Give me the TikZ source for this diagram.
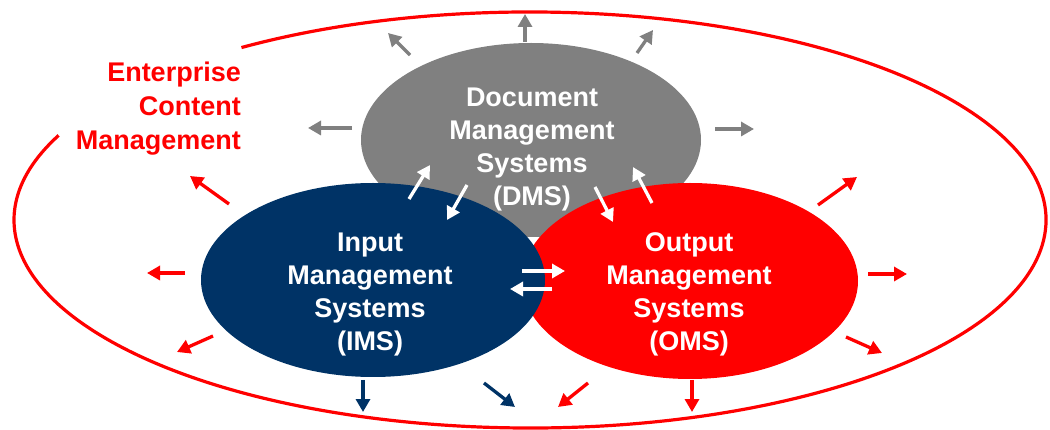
\documentclass[tikz,border=0pt]{standalone}
\usepackage{fontspec}
\setmainfont{Liberation Sans}
\usetikzlibrary{shapes.geometric,arrows.meta}
\definecolor{dmsgray}{HTML}{808080}
\definecolor{imsblue}{HTML}{003366}
\definecolor{omsred}{HTML}{FF0000}
\begin{document}
\begin{tikzpicture}[x=1pt,y=-1pt,
  blob/.style={ellipse, draw=none, inner sep=0pt},
  caption/.style={text=white, font=\bfseries\fontsize{27}{33}\selectfont,
    align=center, inner sep=0pt, anchor=north},
  flow/.style={line width=3.3pt, -{Triangle[length=13pt,width=14pt]}},
  grayflow/.style={flow, draw=dmsgray, fill=dmsgray},
  redflow/.style={flow, draw=omsred, fill=omsred},
  blueflow/.style={flow, draw=imsblue, fill=imsblue},
  whiteflow/.style={flow, draw=white, fill=white},
  ecmline/.style={draw=omsred, line width=3.2pt}]
\useasboundingbox (0,0) rectangle (1050,430);

% outer ECM boundary, open where the title sits
\draw[ecmline] (530,220) ++(236:516 and 208)
  arc[start angle=236, end angle=564, x radius=516, y radius=208];

% the three systems
\node[blob, fill=dmsgray, minimum width=340pt, minimum height=194pt] (dms) at (531,140) {};
\node[blob, fill=omsred, minimum width=336pt, minimum height=196pt] (oms) at (690,281) {};
\node[blob, fill=imsblue, minimum width=344pt, minimum height=194pt] (ims) at (373,280) {};

\node[caption] (dmstext) at (532,88) {Document\\Management\\Systems\\(DMS)};
\node[caption] (imstext) at (370,233) {Input\\Management\\Systems\\(IMS)};
\node[caption] (omstext) at (689,232) {Output\\Management\\Systems\\(OMS)};

\node[text=omsred, font=\bfseries\fontsize{27}{34}\selectfont, align=right,
  inner sep=0pt, anchor=north east] (ecm) at (241,62)
  {Enterprise\\Content\\Management};

% arrow end points
\coordinate (g1s) at (410,55);  \coordinate (g1e) at (388,33);
\coordinate (g2s) at (525,42);  \coordinate (g2e) at (525,14);
\coordinate (g3s) at (637,53);  \coordinate (g3e) at (653,30);
\coordinate (g4s) at (352,128); \coordinate (g4e) at (308,128);
\coordinate (g5s) at (715,129); \coordinate (g5e) at (754,129);
\coordinate (r1s) at (229,204); \coordinate (r1e) at (190,176);
\coordinate (r2s) at (818,205); \coordinate (r2e) at (857,177);
\coordinate (r3s) at (185,273); \coordinate (r3e) at (147,273);
\coordinate (r4s) at (213,336); \coordinate (r4e) at (177,352);
\coordinate (r5s) at (868,274); \coordinate (r5e) at (907,274);
\coordinate (r6s) at (846,337); \coordinate (r6e) at (882,353);
\coordinate (r7s) at (692,380); \coordinate (r7e) at (692,412);
\coordinate (r8s) at (588,383); \coordinate (r8e) at (558,407);
\coordinate (b1s) at (363,380); \coordinate (b1e) at (363,412);
\coordinate (b2s) at (484,383); \coordinate (b2e) at (515,407);
\coordinate (w1s) at (409,199); \coordinate (w1e) at (430,165);
\coordinate (w2s) at (467,185); \coordinate (w2e) at (447,220);
\coordinate (w3s) at (595,187); \coordinate (w3e) at (613,222);
\coordinate (w4s) at (652,203); \coordinate (w4e) at (633,167);
\coordinate (w5s) at (522,271); \coordinate (w5e) at (565,271);
\coordinate (w6s) at (552,289); \coordinate (w6e) at (510,289);

% flows leaving DMS
\draw[grayflow] (g1s) -- (g1e);
\draw[grayflow] (g2s) -- (g2e);
\draw[grayflow] (g3s) -- (g3e);
\draw[grayflow] (g4s) -- (g4e);
\draw[grayflow] (g5s) -- (g5e);
% flows leaving OMS / ECM
\draw[redflow] (r1s) -- (r1e);
\draw[redflow] (r2s) -- (r2e);
\draw[redflow] (r3s) -- (r3e);
\draw[redflow] (r4s) -- (r4e);
\draw[redflow] (r5s) -- (r5e);
\draw[redflow] (r6s) -- (r6e);
\draw[redflow] (r7s) -- (r7e);
\draw[redflow] (r8s) -- (r8e);
% flows leaving IMS
\draw[blueflow] (b1s) -- (b1e);
\draw[blueflow] (b2s) -- (b2e);
% exchanges between the systems
\draw[whiteflow] (w1s) -- (w1e);
\draw[whiteflow] (w2s) -- (w2e);
\draw[whiteflow] (w3s) -- (w3e);
\draw[whiteflow] (w4s) -- (w4e);
\draw[whiteflow] (w5s) -- (w5e);
\draw[whiteflow] (w6s) -- (w6e);
\end{tikzpicture}
\end{document}
